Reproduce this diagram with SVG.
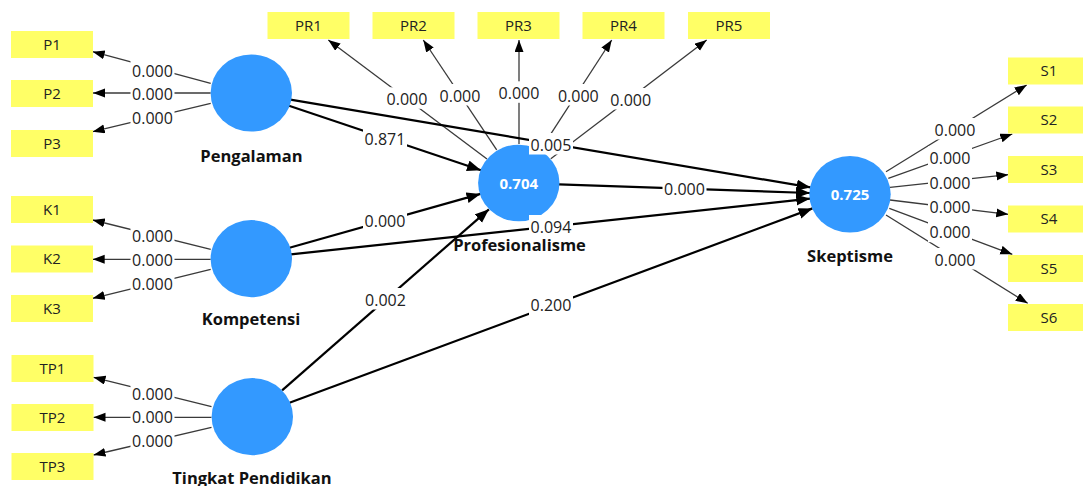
<svg xmlns="http://www.w3.org/2000/svg" width="1083" height="486" viewBox="0 0 1083 486">
<style>
.ind{fill:#ffff66}
.indt{font-family:"Open Sans","Liberation Sans",sans-serif;font-size:15px;fill:#222;text-anchor:middle}
.lv{fill:#3399ff}
.lvt{font-family:"Open Sans","Liberation Sans",sans-serif;font-size:15px;font-weight:bold;fill:#fff;text-anchor:middle}
.name{font-family:"Open Sans","Liberation Sans",sans-serif;font-size:16.5px;font-weight:bold;fill:#111;text-anchor:middle}
.ld{stroke:#3a3a3a;stroke-width:1.3;fill:none;marker-end:url(#a1)}
.pc{stroke:#000;stroke-width:2.2;fill:none;marker-end:url(#a2)}
.lb rect{fill:#fff}
.lb text{font-family:"Open Sans","Liberation Sans",sans-serif;font-size:16px;fill:#222;text-anchor:middle}
</style>
<defs>
<marker id="a1" markerUnits="userSpaceOnUse" markerWidth="13" markerHeight="10" refX="12" refY="4.5" orient="auto"><path d="M0,0 L12,4.5 L0,9 z" fill="#000"/></marker>
<marker id="a2" markerUnits="userSpaceOnUse" markerWidth="15" markerHeight="12" refX="14" refY="5.5" orient="auto"><path d="M0,0 L14,5.5 L0,11 z" fill="#000"/></marker>
</defs>
<rect width="1083" height="486" fill="#fff"/>
<g id="connectors">
<line class="ld" x1="210.7" y1="83.3" x2="92.7" y2="51.7"/>
<line class="ld" x1="210.7" y1="93" x2="93" y2="93"/>
<line class="ld" x1="210.7" y1="103.3" x2="92.7" y2="131.7"/>
<line class="ld" x1="210.7" y1="249.3" x2="92.7" y2="220"/>
<line class="ld" x1="210.7" y1="259.3" x2="92.7" y2="259.3"/>
<line class="ld" x1="210.7" y1="269.3" x2="92.7" y2="298.3"/>
<line class="ld" x1="211.5" y1="406.7" x2="93.5" y2="377.3"/>
<line class="ld" x1="211.5" y1="417.3" x2="93.5" y2="417.3"/>
<line class="ld" x1="211.5" y1="427.3" x2="93.5" y2="455"/>
<line class="ld" x1="487" y1="159" x2="328.3" y2="40"/>
<line class="ld" x1="496.7" y1="149.8" x2="423.3" y2="40"/>
<line class="ld" x1="519" y1="144" x2="519" y2="40"/>
<line class="ld" x1="540.8" y1="149.4" x2="611.7" y2="40"/>
<line class="ld" x1="550.8" y1="158.8" x2="706.7" y2="40"/>
<line class="ld" x1="886" y1="171.7" x2="1026.7" y2="85"/>
<line class="ld" x1="888.3" y1="178.3" x2="1012.3" y2="134"/>
<line class="ld" x1="890" y1="187.3" x2="1008.3" y2="174.7"/>
<line class="ld" x1="890" y1="200" x2="1008.3" y2="214.3"/>
<line class="ld" x1="889.3" y1="208.3" x2="1012.3" y2="254.3"/>
<line class="ld" x1="886" y1="215" x2="1027.7" y2="303.3"/>
<line class="pc" x1="289" y1="105.7" x2="481" y2="170.3"/>
<line class="pc" x1="290.4" y1="99.6" x2="810.6" y2="187.4"/>
<line class="pc" x1="289.5" y1="247.8" x2="480.5" y2="193.9"/>
<line class="pc" x1="290.8" y1="254.4" x2="810.2" y2="198.6"/>
<line class="pc" x1="282.1" y1="390.4" x2="488.9" y2="209.3"/>
<line class="pc" x1="289.5" y1="402.8" x2="812.5" y2="208.4"/>
<line class="pc" x1="559" y1="184.4" x2="810" y2="193"/>
</g>
<g id="indicators">
<g id="P1"><rect class="ind" x="11" y="31" width="82" height="27"/><text class="indt" x="52" y="49.5">P1</text></g>
<g id="P2"><rect class="ind" x="11" y="80" width="82" height="27"/><text class="indt" x="52" y="98.5">P2</text></g>
<g id="P3"><rect class="ind" x="11" y="130" width="82" height="27"/><text class="indt" x="52" y="148.5">P3</text></g>
<g id="K1"><rect class="ind" x="11" y="196" width="82" height="27"/><text class="indt" x="52" y="214.5">K1</text></g>
<g id="K2"><rect class="ind" x="11" y="245.5" width="82" height="27"/><text class="indt" x="52" y="264">K2</text></g>
<g id="K3"><rect class="ind" x="11" y="295" width="82" height="27"/><text class="indt" x="52" y="313.5">K3</text></g>
<g id="TP1"><rect class="ind" x="11.5" y="355" width="82" height="27"/><text class="indt" x="52.5" y="373.5">TP1</text></g>
<g id="TP2"><rect class="ind" x="11.5" y="404" width="82" height="27"/><text class="indt" x="52.5" y="422.5">TP2</text></g>
<g id="TP3"><rect class="ind" x="11.5" y="453" width="82" height="27"/><text class="indt" x="52.5" y="471.5">TP3</text></g>
<g id="PR1"><rect class="ind" x="267.5" y="12" width="82" height="27"/><text class="indt" x="308.5" y="30.5">PR1</text></g>
<g id="PR2"><rect class="ind" x="372.5" y="12" width="82" height="27"/><text class="indt" x="413.5" y="30.5">PR2</text></g>
<g id="PR3"><rect class="ind" x="477.5" y="12" width="82" height="27"/><text class="indt" x="518.5" y="30.5">PR3</text></g>
<g id="PR4"><rect class="ind" x="582.5" y="12" width="82" height="27"/><text class="indt" x="623.5" y="30.5">PR4</text></g>
<g id="PR5"><rect class="ind" x="688" y="12" width="82" height="27"/><text class="indt" x="729" y="30.5">PR5</text></g>
<g id="S1"><rect class="ind" x="1008" y="57.5" width="82" height="27"/><text class="indt" x="1049" y="76">S1</text></g>
<g id="S2"><rect class="ind" x="1008" y="106.5" width="82" height="27"/><text class="indt" x="1049" y="125">S2</text></g>
<g id="S3"><rect class="ind" x="1008" y="156" width="82" height="27"/><text class="indt" x="1049" y="174.5">S3</text></g>
<g id="S4"><rect class="ind" x="1008" y="205.5" width="82" height="27"/><text class="indt" x="1049" y="224">S4</text></g>
<g id="S5"><rect class="ind" x="1008" y="255" width="82" height="27"/><text class="indt" x="1049" y="273.5">S5</text></g>
<g id="S6"><rect class="ind" x="1008" y="304" width="82" height="27"/><text class="indt" x="1049" y="322.5">S6</text></g>
</g>
<g id="Pengalaman"><ellipse class="lv" cx="251.3" cy="93" rx="40.7" ry="38.6"/><text class="name" x="251.5" y="161.5">Pengalaman</text></g>
<g id="Kompetensi"><ellipse class="lv" cx="251.3" cy="258.7" rx="40.7" ry="38.6"/><text class="name" x="251" y="325">Kompetensi</text></g>
<g id="TingkatPendidikan"><ellipse class="lv" cx="252.3" cy="416.7" rx="40.7" ry="38.6"/><text class="name" x="252" y="483.5">Tingkat Pendidikan</text></g>
<g id="Profesionalisme"><ellipse class="lv" cx="518.8" cy="183" rx="40.7" ry="38.3"/><text class="lvt" x="518.8" y="188.5">0.704</text><text class="name" x="519.5" y="251">Profesionalisme</text></g>
<g id="Skeptisme"><ellipse class="lv" cx="850" cy="194.3" rx="40.7" ry="38.3"/><text class="lvt" x="850" y="199.8">0.725</text><text class="name" x="850" y="261.5">Skeptisme</text></g>
<g id="connector-labels" class="lb">
<g><rect x="130.5" y="59" width="44" height="21.5"/><text x="152.5" y="76.7">0.000</text></g>
<g><rect x="130.5" y="82" width="44" height="21.5"/><text x="152.5" y="99.7">0.000</text></g>
<g><rect x="130.5" y="106" width="44" height="21.5"/><text x="152.5" y="123.7">0.000</text></g>
<g><rect x="130.5" y="224.7" width="44" height="21.5"/><text x="152.5" y="242.4">0.000</text></g>
<g><rect x="130.5" y="248" width="44" height="21.5"/><text x="152.5" y="265.7">0.000</text></g>
<g><rect x="130.5" y="272.3" width="44" height="21.5"/><text x="152.5" y="290">0.000</text></g>
<g><rect x="130.5" y="382.3" width="44" height="21.5"/><text x="152.5" y="400">0.000</text></g>
<g><rect x="130.5" y="405.7" width="44" height="21.5"/><text x="152.5" y="423.4">0.000</text></g>
<g><rect x="130.5" y="429.7" width="44" height="21.5"/><text x="152.5" y="447.4">0.000</text></g>
<g><rect x="385" y="87.3" width="44" height="21.5"/><text x="407" y="105">0.000</text></g>
<g><rect x="438" y="84" width="44" height="21.5"/><text x="460" y="101.7">0.000</text></g>
<g><rect x="497" y="81.3" width="44" height="21.5"/><text x="519" y="99">0.000</text></g>
<g><rect x="556.3" y="84" width="44" height="21.5"/><text x="578.3" y="101.7">0.000</text></g>
<g><rect x="608.7" y="88" width="44" height="21.5"/><text x="630.7" y="105.7">0.000</text></g>
<g><rect x="933" y="118" width="44" height="21.5"/><text x="955" y="135.7">0.000</text></g>
<g><rect x="928" y="146.3" width="44" height="21.5"/><text x="950" y="164">0.000</text></g>
<g><rect x="928" y="171.3" width="44" height="21.5"/><text x="950" y="189">0.000</text></g>
<g><rect x="928" y="195.3" width="44" height="21.5"/><text x="950" y="213">0.000</text></g>
<g><rect x="928" y="220.7" width="44" height="21.5"/><text x="950" y="238.4">0.000</text></g>
<g><rect x="933" y="248" width="44" height="21.5"/><text x="955" y="265.7">0.000</text></g>
<g><rect x="363" y="127" width="44" height="21.5"/><text x="385" y="144.7">0.871</text></g>
<g><rect x="529" y="133" width="44" height="21.5"/><text x="551" y="150.7">0.005</text></g>
<g><rect x="363" y="209" width="44" height="21.5"/><text x="385" y="226.7">0.000</text></g>
<g><rect x="529" y="215" width="44" height="21.5"/><text x="551" y="232.7">0.094</text></g>
<g><rect x="363.5" y="288" width="44" height="21.5"/><text x="385.5" y="305.7">0.002</text></g>
<g><rect x="529" y="293.6" width="44" height="21.5"/><text x="551" y="311.3">0.200</text></g>
<g><rect x="662.5" y="177" width="44" height="21.5"/><text x="684.5" y="194.7">0.000</text></g>
</g>
</svg>
